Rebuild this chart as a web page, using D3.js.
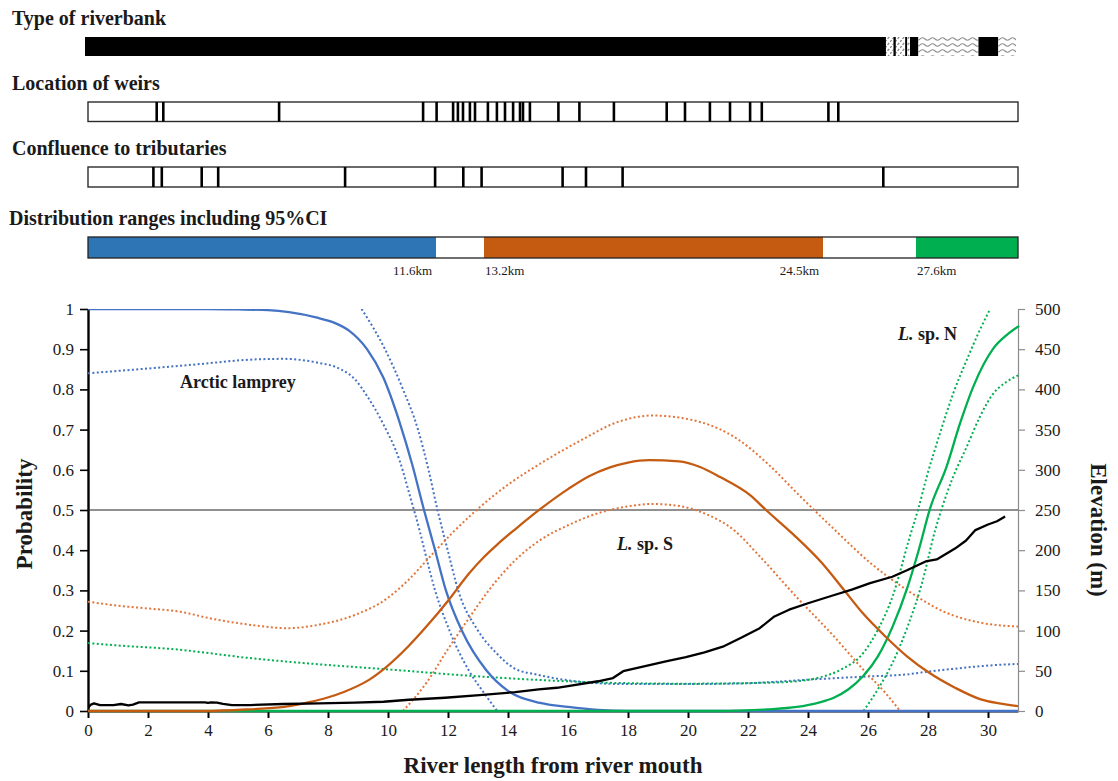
<!DOCTYPE html>
<html>
<head>
<meta charset="utf-8">
<script src="https://cdn.jsdelivr.net/npm/d3@7"></script>
<style>
  html, body { margin: 0; padding: 0; background: #fff; }
  svg { display: block; font-family: "Liberation Serif", "Times New Roman", serif; }
</style>
</head>
<body>
<svg id="chart" width="1118" height="781"></svg>
<script>
// ---------- data (km from river mouth) ----------
// riverbank type segments: breakpoints and the type of each stretch
const bankBreaks = [0, 26.67, 26.92, 27.0, 27.31, 27.38, 27.47, 27.75, 29.75, 30.41, 31];
const bankTypes  = ["concrete", "block", "concrete", "block", "concrete", "block", "concrete", "natural", "concrete", "natural"];

// weirs and tributary confluences
const weirs = [2.29, 2.51, 6.37, 11.17, 11.62, 12.17, 12.33, 12.5, 12.73, 12.9, 13.33, 13.63, 13.9,
               14.17, 14.4, 14.5, 14.73, 15.68, 16.38, 17.53, 19.29, 19.9, 20.73, 21.4, 22.07, 22.46, 24.68, 25.01];
const confluences = [2.18, 2.46, 3.79, 4.34, 8.57, 11.57, 12.51, 13.12, 15.82, 16.6, 17.82, 26.51];

// distribution ranges including 95% CI
const rangeSpecies = ["arctic", "lspS", "lspN"];
const rangeStart   = [0, 13.2, 27.6];
const rangeEnd     = [11.6, 24.5, 31];
const rangeLabels  = ["11.6km", "13.2km", "24.5km", "27.6km"];
const rangeLabelKm = [11.6, 13.2, 24.5, 27.6];

// occurrence probability along the river: [km, probability]
const arcticFit = [[0,1],[4,1],[5,0.999],[6,0.997],[6.7,0.992],[7.6,0.979],[8.2,0.966],[8.7,0.946],[9.3,0.90],
  [9.84,0.83],[10.4,0.715],[10.8,0.615],[11.2,0.5],[11.57,0.4],[11.93,0.3],[12.46,0.2],[13.29,0.1],[14,0.05],
  [15.07,0.02],[16,0.01],[17,0.0025],[18,0],[31,0]];
const arcticLow = [[0,0.84],[1,0.846],[2,0.852],[3.73,0.863],[5.4,0.874],[6.5,0.876],[7.62,0.867],[8.4,0.851],
  [8.9,0.825],[9.29,0.785],[9.84,0.714],[10.4,0.62],[10.75,0.53],[11.05,0.45],[11.25,0.39],[11.57,0.3],
  [12.05,0.2],[12.7,0.1],[13.2,0.045],[13.64,0]];
const arcticHigh = [[9.12,1.0],[9.9,0.9],[10.5,0.8],[11.0,0.7],[11.35,0.6],[11.65,0.5],[11.99,0.4],[12.34,0.3],
  [13.0,0.2],[13.6,0.145],[14.24,0.105],[15.0,0.09],[15.6,0.081],[16.25,0.074],[17,0.069],[18,0.067],[20,0.067],
  [22,0.069],[23,0.073],[24,0.078],[25,0.082],[26,0.086],[27.3,0.091],[28,0.098],[29,0.106],[30,0.113],[31,0.117]];

const lspSFit = [[0,0],[3.9,0],[5.35,0.004],[6.54,0.01],[7.37,0.022],[7.96,0.033],[8.55,0.048],[9.38,0.078],
  [9.97,0.111],[10.68,0.161],[11.28,0.21],[12.01,0.275],[12.7,0.342],[13.2,0.383],[13.64,0.414],[14.24,0.452],
  [15.07,0.502],[16.0,0.552],[16.7,0.584],[17.4,0.606],[18.0,0.618],[18.7,0.624],[19.7,0.621],[20.4,0.607],
  [21.07,0.582],[22.07,0.537],[22.6,0.5],[23.5,0.44],[24.48,0.367],[25.2,0.301],[25.83,0.243],[26.57,0.186],
  [27.3,0.136],[28.04,0.095],[28.9,0.058],[29.76,0.029],[30.37,0.019],[31,0.012]];
const lspSHigh = [[0,0.272],[1,0.262],[2,0.255],[2.98,0.248],[4.17,0.229],[5.35,0.215],[6.66,0.206],[7.72,0.215],
  [8.9,0.239],[9.97,0.28],[10.68,0.326],[11.5,0.392],[12.2,0.447],[13.0,0.503],[14,0.563],[15.07,0.615],
  [16.4,0.672],[17.7,0.72],[18.8,0.735],[20.4,0.719],[21.7,0.674],[22.7,0.612],[23.7,0.537],[24.9,0.45],
  [26.1,0.367],[27.3,0.301],[28.5,0.248],[29.8,0.219],[31,0.21]];
const lspSLow = [[10.5,0],[11.28,0.07],[11.99,0.153],[12.7,0.231],[13.41,0.305],[14.24,0.375],[15.07,0.425],
  [16.0,0.462],[17.0,0.492],[18.0,0.509],[18.8,0.515],[19.7,0.51],[20.6,0.49],[21.53,0.45],[22.4,0.384],
  [23.6,0.285],[24.86,0.186],[25.84,0.103],[26.58,0.045],[27.07,0]];

const lspNFit = [[0,0],[21,0],[21.66,0.001],[22.64,0.004],[23.63,0.01],[24.36,0.021],[24.86,0.033],[25.35,0.054],
  [25.84,0.087],[26.33,0.136],[26.82,0.21],[27.32,0.309],[27.69,0.4],[28.07,0.504],[28.62,0.608],[29.07,0.716],
  [29.51,0.807],[30.18,0.902],[30.62,0.935],[31.04,0.958]];
const lspNHigh = [[0,0.169],[1,0.163],[2.98,0.153],[5.35,0.132],[7.72,0.116],[10.09,0.103],[12.46,0.089],
  [14.83,0.078],[17.5,0.07],[19.9,0.068],[22.4,0.07],[23.63,0.074],[24.36,0.083],[25.1,0.103],[25.84,0.144],
  [26.33,0.202],[26.82,0.285],[27.38,0.43],[27.68,0.504],[27.96,0.583],[28.4,0.691],[28.84,0.79],[29.29,0.873],
  [29.73,0.948],[30.07,1.0]];
const lspNLow = [[25.85,0],[26.33,0.054],[26.82,0.12],[27.32,0.21],[27.8,0.318],[28.24,0.45],[28.46,0.504],
  [28.84,0.583],[29.29,0.657],[29.73,0.732],[30.18,0.79],[30.62,0.819],[31.04,0.836]];

// river bed elevation (m): [km, elevation]
const elevation = [[0,4],[0.1,8],[0.2,9.5],[0.4,7.4],[0.85,7.4],[1.1,8.7],[1.35,7],[1.5,8],[1.7,10.7],[3,10.7],
  [3.9,10.7],[4.0,10],[4.1,10.8],[4.3,10.5],[4.5,9],[4.8,7.4],[5.4,7.4],[6.5,8.7],[7.7,9.5],[8.9,10.3],
  [9.85,11.5],[10.7,14],[11.9,16.5],[13.05,19.8],[14.24,23.5],[15.02,26.8],[15.63,28.9],[16,31],[17,37],
  [17.5,41],[17.84,49.5],[18.46,55],[19.3,62],[19.93,67],[20.55,73],[21.16,80],[21.77,91],[22.39,103],
  [22.88,117.6],[23.37,126],[24,134],[24.85,144],[25.46,151],[26.07,159],[26.81,167],[27.3,175],[27.92,186],
  [28.29,188.5],[28.9,202],[29.27,212],[29.58,225],[30.0,232],[30.3,236],[30.57,242]];

const probTicks = d3.range(0, 1.001, 0.1);
const elevTicks = d3.range(0, 501, 50);
const kmTicks = d3.range(0, 31, 2);

// ---------- layout ----------
const svg = d3.select("#chart");
const plot = { left: 88, right: 1018, top: 309, bottom: 711 };
const x = d3.scaleLinear().domain([0, 31]).range([plot.left, plot.right]);
const xBank = d3.scaleLinear().domain([0, 31]).range([85, 1016]);
const yP = d3.scaleLinear().domain([0, 1]).range([plot.bottom, plot.top]);
const yE = d3.scaleLinear().domain([0, 500]).range([plot.bottom, plot.top]);

const ink = "#1a1a1a";
const col = {
  arctic: "#4472C4", arcticBar: "#2E75B6",
  lspS: "#C55A11", lspSDot: "#E2763A",
  lspN: "#00B050"
};

// ---------- patterns for riverbank types ----------
const defs = svg.append("defs");
const hatch = defs.append("pattern").attr("id", "bank-block")
  .attr("patternUnits", "userSpaceOnUse").attr("width", 5).attr("height", 6);
hatch.append("rect").attr("width", 5).attr("height", 6).attr("fill", "#fff");
hatch.append("path").attr("d", "M0,6 L5,0").attr("stroke", "#8a8a8a").attr("stroke-width", 1.3)
  .attr("stroke-dasharray", "2.5,1.5");
const wave = defs.append("pattern").attr("id", "bank-natural")
  .attr("patternUnits", "userSpaceOnUse").attr("width", 10).attr("height", 6);
wave.append("rect").attr("width", 10).attr("height", 6).attr("fill", "#fff");
wave.append("path").attr("d", "M0,3 Q2.5,0.5 5,3 T10,3").attr("fill", "none")
  .attr("stroke", "#8f8f8f").attr("stroke-width", 1.1);
const bankFill = { concrete: "#000", block: "url(#bank-block)", natural: "url(#bank-natural)" };

defs.append("clipPath").attr("id", "plot-clip").append("rect")
  .attr("x", plot.left).attr("y", plot.top).attr("width", plot.right - plot.left + 2)
  .attr("height", plot.bottom - plot.top + 4);

// ---------- section titles ----------
const sectionTitle = (txt, tx, ty) => svg.append("text").attr("x", tx).attr("y", ty)
  .attr("font-size", 20).attr("font-weight", "bold").attr("fill", ink).text(txt);
sectionTitle("Type of riverbank", 12, 25);
sectionTitle("Location of weirs", 12, 90);
sectionTitle("Confluence to tributaries", 12, 155);
sectionTitle("Distribution ranges including 95%CI", 9, 225);

// ---------- riverbank type bar ----------
const bank = svg.append("g");
bank.selectAll("rect").data(bankTypes).join("rect")
  .attr("x", (d, i) => xBank(bankBreaks[i]))
  .attr("width", (d, i) => xBank(bankBreaks[i + 1]) - xBank(bankBreaks[i]))
  .attr("y", 37).attr("height", 19)
  .attr("fill", d => bankFill[d]);

// ---------- weirs / confluences ----------
function tickBar(data, top, h) {
  const g = svg.append("g");
  g.append("rect").attr("x", x(0)).attr("y", top).attr("width", x(31) - x(0)).attr("height", h)
    .attr("fill", "#fff").attr("stroke", "#2b2b2b").attr("stroke-width", 1.4);
  g.selectAll("line").data(data).join("line")
    .attr("x1", d => x(d)).attr("x2", d => x(d))
    .attr("y1", top).attr("y2", top + h)
    .attr("stroke", "#000").attr("stroke-width", 2.6);
}
tickBar(weirs, 102, 19.5);
tickBar(confluences, 167, 20);

// ---------- distribution ranges ----------
const dist = svg.append("g");
dist.append("rect").attr("x", x(0)).attr("y", 237).attr("width", x(31) - x(0)).attr("height", 21)
  .attr("fill", "#fff");
dist.selectAll("rect.range").data(rangeSpecies).join("rect").attr("class", "range")
  .attr("x", (d, i) => x(rangeStart[i]))
  .attr("width", (d, i) => x(rangeEnd[i]) - x(rangeStart[i]))
  .attr("y", 237).attr("height", 21)
  .attr("fill", d => d === "arctic" ? col.arcticBar : d === "lspS" ? col.lspS : col.lspN);
dist.append("rect").attr("x", x(0)).attr("y", 237).attr("width", x(31) - x(0)).attr("height", 21)
  .attr("fill", "none").attr("stroke", "#222").attr("stroke-width", 1.3);
dist.selectAll("text").data(rangeLabels).join("text")
  .attr("x", (d, i) => i % 2 === 0 ? x(rangeLabelKm[i]) - 4 : x(rangeLabelKm[i]) + 1)
  .attr("text-anchor", (d, i) => i % 2 === 0 ? "end" : "start")
  .attr("y", 275).attr("font-size", 13).attr("fill", ink)
  .text(d => d);

// ---------- axes ----------
const gx = svg.append("g").attr("transform", `translate(0,${plot.bottom})`)
  .call(d3.axisBottom(x).tickValues(kmTicks).tickSize(7).tickSizeOuter(0).tickPadding(6).tickFormat(d3.format("d")));
gx.select(".domain").attr("stroke", "#000").attr("stroke-width", 2.2);
gx.selectAll(".tick line").attr("stroke", "#000").attr("stroke-width", 2);
gx.selectAll(".tick text").attr("font-size", 17).attr("fill", ink).attr("font-family", "Liberation Serif");

const gy = svg.append("g").attr("transform", `translate(${plot.left},0)`)
  .call(d3.axisLeft(yP).tickValues(probTicks).tickSize(8).tickSizeOuter(0).tickPadding(6)
    .tickFormat(d => String(+d.toFixed(1))));
gy.select(".domain").attr("stroke", "#000").attr("stroke-width", 2.4);
gy.selectAll(".tick line").attr("stroke", "#000").attr("stroke-width", 1.6);
gy.selectAll(".tick text").attr("font-size", 17).attr("fill", ink).attr("font-family", "Liberation Serif");

const gr = svg.append("g").attr("transform", `translate(${plot.right},0)`)
  .call(d3.axisRight(yE).tickValues(elevTicks).tickSize(7).tickSizeOuter(0).tickPadding(10));
gr.select(".domain").attr("stroke", "#8c8c8c").attr("stroke-width", 1.2);
gr.selectAll(".tick line").attr("stroke", "#8c8c8c").attr("stroke-width", 1.2);
gr.selectAll(".tick text").attr("font-size", 17).attr("fill", ink).attr("font-family", "Liberation Serif");

// 0.5 probability reference line
svg.append("line").attr("x1", x(0)).attr("x2", x(31)).attr("y1", yP(0.5)).attr("y2", yP(0.5))
  .attr("stroke", "#222").attr("stroke-width", 1.1);

// ---------- axis titles ----------
svg.append("text").attr("transform", `translate(32,514) rotate(-90)`).attr("text-anchor", "middle")
  .attr("font-size", 23).attr("font-weight", "bold").attr("fill", ink).text("Probability");
svg.append("text").attr("transform", `translate(1091,530) rotate(90)`).attr("text-anchor", "middle")
  .attr("font-size", 23).attr("font-weight", "bold").attr("fill", ink).text("Elevation (m)");
svg.append("text").attr("x", 553).attr("y", 773).attr("text-anchor", "middle")
  .attr("font-size", 23).attr("font-weight", "bold").attr("fill", ink).text("River length from river mouth");

// ---------- curves ----------
const curves = svg.append("g").attr("clip-path", "url(#plot-clip)");
const probLine = d3.line().x(d => x(d[0])).y(d => yP(d[1])).curve(d3.curveMonotoneX);
const elevLine = d3.line().x(d => x(d[0])).y(d => yE(d[1])).curve(d3.curveLinear);

const dotted = (data, c) => curves.append("path").attr("d", probLine(data)).attr("fill", "none")
  .attr("stroke", c).attr("stroke-width", 2).attr("stroke-dasharray", "2,2.4");
const solid = (data, c) => curves.append("path").attr("d", probLine(data)).attr("fill", "none")
  .attr("stroke", c).attr("stroke-width", 2.3).attr("stroke-linejoin", "round");

dotted(arcticLow, col.arctic);
dotted(arcticHigh, col.arctic);
dotted(lspSHigh, col.lspSDot);
dotted(lspSLow, col.lspSDot);
dotted(lspNHigh, col.lspN);
dotted(lspNLow, col.lspN);

solid(arcticFit, col.arctic);
solid(lspNFit, col.lspN);
solid(lspSFit, col.lspS);

curves.append("path").attr("d", elevLine(elevation)).attr("fill", "none")
  .attr("stroke", "#000").attr("stroke-width", 2.3).attr("stroke-linejoin", "round");

// ---------- species labels ----------
svg.append("text").attr("x", 180).attr("y", 388).attr("font-size", 18).attr("font-weight", "bold")
  .attr("fill", ink).text("Arctic lamprey");
const spLabel = (tx, ty, suffix) => {
  const t = svg.append("text").attr("x", tx).attr("y", ty).attr("font-size", 18)
    .attr("font-weight", "bold").attr("fill", ink);
  t.append("tspan").attr("font-style", "italic").text("L.");
  t.append("tspan").text(" sp. " + suffix);
};
spLabel(617, 550, "S");
spLabel(898, 340, "N");
</script>
</body>
</html>
